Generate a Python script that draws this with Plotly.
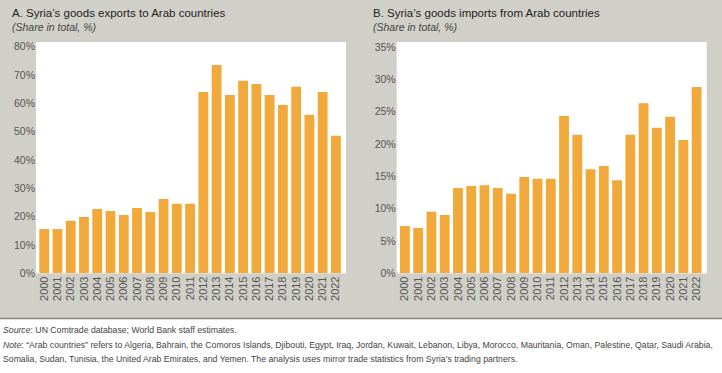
import plotly.graph_objects as go

years = [str(y) for y in range(2000, 2023)]
exports_share = [15.6, 15.6, 18.5, 19.9, 22.7, 22.0, 20.6, 23.0, 21.6, 26.2, 24.5, 24.5,
                 64.0, 73.5, 62.9, 67.9, 66.8, 62.9, 59.4, 65.8, 55.9, 64.0, 48.5]
imports_share = [7.3, 7.0, 9.5, 9.0, 13.2, 13.5, 13.6, 13.2, 12.3, 14.9, 14.6, 14.6,
                 24.3, 21.4, 16.1, 16.6, 14.4, 21.4, 26.3, 22.5, 24.2, 20.6, 28.8]
left_ticks = [0, 10, 20, 30, 40, 50, 60, 70, 80]
right_ticks = [0, 5, 10, 15, 20, 25, 30, 35]

W, H = 722, 373
BAR = "#F0A93A"
GRAY = "#D1D0C8"
FONT = "Liberation Sans Narrow, Arial Narrow, Liberation Sans, sans-serif"
TICKC = "#555555"

def px(x):
    return x / W

def py(y):
    return 1 - y / H

fig = go.Figure()
fig.add_trace(go.Bar(x=years, y=exports_share, marker_color=BAR, marker_line_width=0,
                     xaxis="x", yaxis="y", showlegend=False))
fig.add_trace(go.Bar(x=years, y=imports_share, marker_color=BAR, marker_line_width=0,
                     xaxis="x2", yaxis="y2", showlegend=False))

xcommon = dict(type="category", range=[-0.62, 22.76], tickangle=-90, showgrid=False,
               zeroline=False, showline=False, ticks="", tickmode="array", tickvals=years,
               ticktext=years, tickfont=dict(family=FONT, size=11, color=TICKC),
               automargin=False, fixedrange=True)
ycommon = dict(showgrid=False, zeroline=False, showline=False, ticks="",
               tickfont=dict(family=FONT, size=10.5, color=TICKC), automargin=False,
               fixedrange=True)

fig.update_layout(
    width=W, height=H,
    margin=dict(l=0, r=0, t=0, b=0, autoexpand=False),
    paper_bgcolor=GRAY,
    plot_bgcolor="white",
    bargap=0.26,
    xaxis=dict(domain=[px(36), px(346)], anchor="y", **xcommon),
    yaxis=dict(domain=[py(273.3), py(42)], anchor="x", range=[0, 81.6],
               tickmode="array", tickvals=left_ticks,
               ticktext=[f"{v}%" for v in left_ticks], **ycommon),
    xaxis2=dict(domain=[px(396.7), px(706.7)], anchor="y2", **xcommon),
    yaxis2=dict(domain=[py(273.3), py(42)], anchor="x2", range=[0, 35.75],
                tickmode="array", tickvals=right_ticks,
                ticktext=[f"{v}%" for v in right_ticks], **ycommon),
    shapes=[
        dict(type="rect", xref="paper", yref="paper", x0=0, x1=1, y0=0, y1=py(318),
             fillcolor="white", line_width=0, layer="below"),
        dict(type="line", xref="paper", yref="paper", x0=0, x1=1, y0=py(318.5), y1=py(318.5),
             line=dict(color="#85857D", width=1.5)),
    ],
)

def ann(text, x, y, size, color="#222222", italic=False):
    fig.add_annotation(text=text, xref="paper", yref="paper", x=px(x), y=py(y),
                       xanchor="left", yanchor="middle", showarrow=False,
                       font=dict(family=FONT, size=size, color=color,
                                 style="italic" if italic else "normal"))

ann("A. Syria’s goods exports to Arab countries", 10, 13, 11.5, "#222222")
ann("(Share in total, %)", 10, 26.5, 10.5, "#444444", italic=True)
ann("B. Syria’s goods imports from Arab countries", 371, 13, 11.5, "#222222")
ann("(Share in total, %)", 371, 26.5, 10.5, "#444444", italic=True)

NOTE_SIZE = 8.7
ann("<i>Source</i>: UN Comtrade database; World Bank staff estimates.", 1, 330, NOTE_SIZE, "#444444")
ann("<i>Note</i>: “Arab countries” refers to Algeria, Bahrain, the Comoros Islands, Djibouti, Egypt, Iraq, Jordan, Kuwait, Lebanon, Libya, Morocco, Mauritania, Oman, Palestine, Qatar, Saudi Arabia,",
    1, 345, NOTE_SIZE, "#444444")
ann("Somalia, Sudan, Tunisia, the United Arab Emirates, and Yemen. The analysis uses mirror trade statistics from Syria’s trading partners.",
    1, 359, NOTE_SIZE, "#444444")

fig.write_html("out.html",
               config={"displayModeBar": False, "staticPlot": True},
               post_script="document.body.style.margin='0';document.body.style.padding='0';document.body.style.overflow='hidden';")
